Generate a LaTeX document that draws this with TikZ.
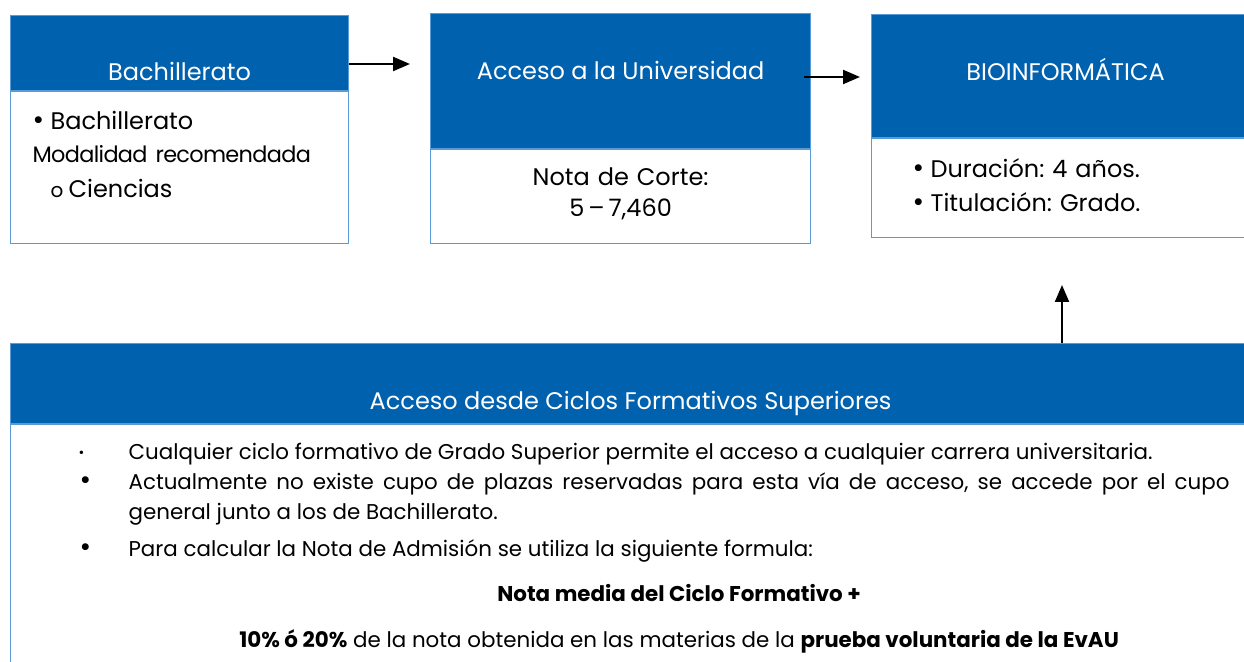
\documentclass[tikz,border=0pt]{standalone}
\usepackage{fontspec}
\setmainfont{Poppins}
\usepackage{xcolor}
\usetikzlibrary{arrows.meta, positioning}
\definecolor{headblue}{RGB}{0,97,174}
\definecolor{lineblue}{RGB}{91,155,213}
\frenchspacing
\hyphenpenalty=10000
\exhyphenpenalty=10000

\begin{document}
\begin{tikzpicture}[x=0.5pt, y=-0.5pt,
    font=\fontsize{12}{15}\selectfont,
    head/.style={draw=lineblue, line width=0.6pt, fill=headblue, text=white,
      inner sep=0pt, anchor=north west},
    body/.style={draw=lineblue, line width=0.6pt, fill=white, inner ysep=0pt,
      below=0pt of #1, align=left},
    arr/.style={-{Triangle[length=8.5pt, width=7pt]}, line width=1.1pt}]
    \clip (0,0) rectangle (1244,662);

    % upper row
    \node[head, minimum width=169pt, text height=32.5pt, text depth=5pt] (bach) at (10,15) {Bachillerato};
    \node[body=bach, text width=158pt, inner xsep=5.5pt, text height=19pt, text depth=57pt] (bachB)
      {\leftskip=5.5pt
       \makebox[9pt][l]{\fontsize{14}{14}\selectfont\textbullet}Bachillerato\\[1.5pt]
       {\fontsize{11.2}{15}\selectfont\addfontfeature{LetterSpace=-3}Modalidad recomendada}\\[2.5pt]
       \hspace*{14.5pt}\makebox[9pt][l]{\fontsize{10}{10}\selectfont o}Ciencias};

    \node[head, minimum width=190pt, text height=33pt, text depth=34.5pt] (univ) at (430,13) {Acceso a la Universidad};
    \node[body=univ, text width=180pt, inner xsep=5pt, align=center, text height=18pt, text depth=29pt] (univB)
      {Nota de Corte:\\[0.5pt] 5\,–\,7,460};

    \node[head, minimum width=194pt, text height=33pt, text depth=28.5pt] (bio) at (871,14) {BIOINFORMÁTICA};
    \node[body=bio, text width=153pt, inner xsep=20.5pt, text height=19.5pt, text depth=30pt] (bioB)
      {\makebox[9pt][l]{\fontsize{14}{14}\selectfont\textbullet}Duración: 4 años.\\[2pt]
       \makebox[9pt][l]{\fontsize{14}{14}\selectfont\textbullet}Titulación: Grado.};

    % lower box
    \node[head, minimum width=620pt, text height=33pt, text depth=7pt] (ciclos) at (10,343) {Acceso desde Ciclos Formativos Superiores};
    \node[body=ciclos.south west, anchor=north west, text width=574.5pt, inner xsep=35pt, align=justify,
      text height=17.5pt, text depth=150pt, font=\fontsize{10.7}{15}\selectfont] (ciclosB)
      {\hangindent=24pt\hangafter=1\noindent\makebox[24pt][l]{\hspace{-1pt}\raisebox{1pt}{\scriptsize\textbullet}}Cualquier ciclo formativo de Grado Superior permite el acceso a cualquier carrera universitaria.\par
       \hangindent=24pt\hangafter=1\noindent\makebox[24pt][l]{\hspace{-0.5pt}\fontsize{14}{14}\selectfont\textbullet}Actualmente no existe cupo de plazas reservadas para esta vía de acceso, se accede por el cupo\linebreak general junto a los de Bachillerato.\par
       \vspace{3.5pt}
       \hangindent=24pt\hangafter=1\noindent\makebox[24pt][l]{\hspace{-0.5pt}\fontsize{14}{14}\selectfont\textbullet}Para calcular la Nota de Admisión se utiliza la siguiente formula:\par
       \vspace{7.5pt}
       \noindent\hspace*{24pt}\makebox[550.5pt]{\textbf{Nota media del Ciclo Formativo +}}\par
       \vspace{8pt}
       \noindent\hspace*{24pt}\makebox[550.5pt]{\textbf{10\% ó 20\%} de la nota obtenida en las materias de la \textbf{prueba voluntaria de la EvAU}}\par};

    % arrows
    \coordinate (tipA) at (410,64);
    \coordinate (tipB) at (860,77);
    \coordinate (tipC) at (1062,285);
    \draw[arr] (bach.east |- tipA) -- (tipA);
    \draw[arr] ([xshift=-3.5pt]univ.east |- tipB) -- (tipB);
    \draw[arr] (ciclos.north -| tipC) -- (tipC);
\end{tikzpicture}
\end{document}
